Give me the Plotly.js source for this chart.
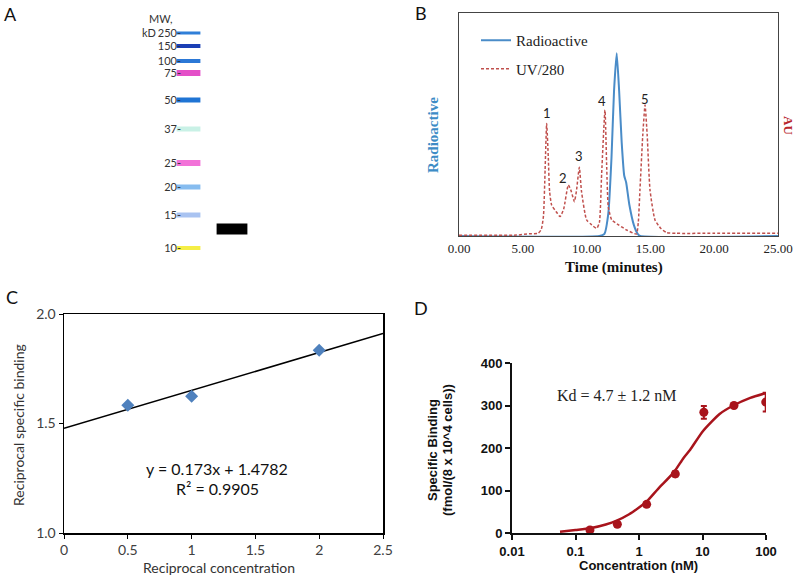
<!DOCTYPE html>
<html>
<head>
<meta charset="utf-8">
<script src="https://cdn.plot.ly/plotly-3.0.1.min.js"></script>
<style>
html,body{margin:0;padding:0;background:#fff;}
#chart{width:800px;height:579px;}
</style>
</head>
<body>
<div id="chart"></div>
<script>
// ---------- Panel A: gel (marker ladder + sample band) ----------
var ladderMW = ['250','150','100','75','50','37','25','20','15','10'];
var ladderMigration = [33, 46, 61, 73, 100, 129, 163, 187, 215, 248];
var ladderColors = ['#2f7fd8','#1b3fb5','#2b78d6','#e44fc8','#1f74d4','#c9f1e6','#f272d8','#86bcef','#a9c3f1','#f5ee45'];
var ladderThickness = [3, 4, 4, 6, 5, 5, 6, 5, 5, 4];
var sampleMigration = [229];

// ---------- Panel B: chromatogram ----------
var uvTime = [0, 4.5, 5.5, 6.2, 6.45, 6.62, 6.75, 6.87, 7.0, 7.1, 7.26, 7.6, 7.92, 8.2, 8.57, 8.8, 9.04, 9.2, 9.43, 9.6, 10.0, 10.4, 10.79, 11.0, 11.18, 11.44, 11.58, 11.7, 11.97, 12.5, 13.14, 13.9, 14.05, 14.18, 14.4, 14.58, 14.75, 14.97, 15.36, 15.8, 16.27, 17.0, 20.0, 25.0];
var uvSignal = [0.003, 0.004, 0.01, 0.012, 0.03, 0.09, 0.3, 0.505, 0.35, 0.2, 0.139, 0.11, 0.087, 0.12, 0.229, 0.2, 0.154, 0.2, 0.308, 0.2, 0.072, 0.05, 0.034, 0.06, 0.28, 0.565, 0.3, 0.13, 0.072, 0.05, 0.027, 0.009, 0.06, 0.206, 0.45, 0.587, 0.45, 0.206, 0.072, 0.035, 0.015, 0.012, 0.012, 0.012];
var radTime = [0, 11.0, 11.4, 11.7, 11.95, 12.15, 12.36, 12.55, 12.75, 12.95, 13.1, 13.35, 13.7, 14.0, 14.2, 25.0];
var radSignal = [0, 0, 0.01, 0.1, 0.35, 0.65, 0.82, 0.65, 0.42, 0.27, 0.24, 0.14, 0.05, 0.01, 0, 0];
var peakLabels = ['1','2','3','4','5'];
var peakLabelTime = [6.9, 8.15, 9.4, 11.2, 14.6];
var peakLabelSignal = [0.55, 0.26, 0.36, 0.605, 0.615];
var timeTicks = [0, 5, 10, 15, 20, 25];

// ---------- Panel C: double-reciprocal plot ----------
var recipConc = [0.5, 1, 2];
var recipBinding = [1.583, 1.625, 1.835];
var trendX = [0, 2.5];
var trendY = [1.4782, 1.9107];

// ---------- Panel D: saturation binding ----------
var concNM = [0.169, 0.456, 1.32, 3.73, 10.5, 31.3, 99];
var binding = [7, 20.5, 67.5, 139, 284, 300, 308];
var bindingErr = [4, 5, 5, 6, 15, 4, 22];
var fitConc = [0.057, 0.1, 0.169, 0.3, 0.446, 0.7, 1.0, 1.32, 2.0, 3.5, 5.0, 6.4, 10.2, 18.6, 30.6, 56.5, 99];
var fitBinding = [3, 7, 11, 20, 29, 44, 60, 74, 104, 142, 176, 196, 240, 280, 300, 318, 329];
var concTicks = [0.01, 0.1, 1, 10, 100];
var concTickText = ['0.01', '0.1', '1', '10', '100'];

// helpers: pixel -> paper
function px(x){ return x/800; }
function py(y){ return 1 - y/579; }

var serif = 'Liberation Serif, Times New Roman, serif';
var sans = 'Lato, Open Sans, sans-serif';
var arial = 'Liberation Sans, Arial, sans-serif';

var traces = [
  // A ladder
  {x: ladderMW.map(function(){return 1;}), y: ladderMigration, xaxis:'x', yaxis:'y', mode:'markers', type:'scatter', showlegend:false, hoverinfo:'skip',
   marker:{symbol:'line-ew', size:17, line:{color:ladderColors, width:ladderThickness}}},
  // A sample
  {x: [2], y: sampleMigration, xaxis:'x', yaxis:'y', mode:'markers', type:'scatter', showlegend:false, hoverinfo:'skip',
   marker:{symbol:'line-ew', size:22, line:{color:'#000', width:11}}},
  // B
  {x: radTime, y: radSignal, xaxis:'x2', yaxis:'y2', mode:'lines', type:'scatter', name:'Radioactive', legendgroup:'a',
   line:{color:'#4a8cc8', width:2, shape:'spline', smoothing:0.5}},
  {x: uvTime, y: uvSignal, xaxis:'x2', yaxis:'y2', mode:'lines', type:'scatter', name:'UV/280', legendgroup:'b',
   line:{color:'#c0504d', width:1.5, dash:'3px,2px', shape:'spline', smoothing:0.5}},
  // C
  {x: trendX, y: trendY, xaxis:'x3', yaxis:'y3', mode:'lines', type:'scatter', showlegend:false,
   line:{color:'#000', width:1.5}},
  {x: recipConc, y: recipBinding, xaxis:'x3', yaxis:'y3', mode:'markers', type:'scatter', showlegend:false,
   marker:{symbol:'diamond', size:10, color:'#4f81bd'}},
  // D
  {x: fitConc, y: fitBinding, xaxis:'x4', yaxis:'y4', mode:'lines', type:'scatter', showlegend:false,
   line:{color:'#a8141c', width:2.5, shape:'spline', smoothing:0.6}},
  {x: concNM, y: binding, xaxis:'x4', yaxis:'y4', mode:'markers', type:'scatter', showlegend:false,
   error_y:{type:'data', array:bindingErr, visible:true, color:'#a8141c', thickness:2, width:3},
   marker:{symbol:'circle', size:9, color:'#a8141c'}}
];

var layout = {
  width:800, height:579,
  margin:{l:0, r:0, t:0, b:0},
  paper_bgcolor:'#fff', plot_bgcolor:'rgba(0,0,0,0)',
  showlegend:true,
  legend:{x:px(476), y:py(24), xanchor:'left', yanchor:'top', bgcolor:'rgba(0,0,0,0)',
          font:{family:serif, size:15, color:'#222'}, tracegroupgap:6, itemwidth:30},
  // A
  xaxis:{domain:[px(145), px(275.5)], range:[0,3], visible:false, fixedrange:true, anchor:'y'},
  yaxis:{domain:[py(260), py(20)], range:[260,20], anchor:'free', position:px(181), showgrid:false, zeroline:false, showline:false,
         ticks:'', tickvals:ladderMigration, ticktext:ladderMW.map(function(s){return s+'-';}),
         tickfont:{family:sans, size:11, color:'#333'}},
  // B
  xaxis2:{domain:[px(459), px(778)], range:[0,25], anchor:'y2', tickvals:timeTicks, ticktext:timeTicks.map(function(v){return v.toFixed(2);}),
          ticks:'', showline:true, mirror:true, linecolor:'#444', linewidth:1, showgrid:false, zeroline:false,
          tickfont:{family:serif, size:13, color:'#222'}},
  yaxis2:{domain:[py(236), py(13)], range:[0,1], anchor:'x2', showticklabels:false, ticks:'', showline:true, mirror:true,
          linecolor:'#444', linewidth:1, showgrid:false, zeroline:false},
  // C
  xaxis3:{domain:[px(64), px(383)], range:[0,2.5], anchor:'y3', dtick:0.5, tick0:0, ticks:'outside', ticklen:4, tickcolor:'#000',
          showline:true, mirror:true, linecolor:'#000', linewidth:1.5, showgrid:false, zeroline:false,
          tickfont:{family:sans, size:14, color:'#404040'}},
  yaxis3:{domain:[py(533), py(314)], range:[1,2], anchor:'x3', dtick:0.5, tick0:1, tickformat:'.1f', ticks:'outside', ticklen:4, tickcolor:'#000',
          showline:true, mirror:true, linecolor:'#000', linewidth:1.5, showgrid:false, zeroline:false,
          tickfont:{family:sans, size:14, color:'#404040'}},
  // D
  xaxis4:{domain:[px(512), px(766)], type:'log', range:[-2,2], anchor:'y4', tickvals:concTicks, ticktext:concTickText,
          ticks:'outside', ticklen:5, tickwidth:2, tickcolor:'#111', showline:true, linecolor:'#111', linewidth:2,
          showgrid:false, zeroline:false, tickfont:{family:arial, size:13, color:'#111', weight:'bold'}},
  yaxis4:{domain:[py(533), py(363)], range:[0,400], anchor:'x4', dtick:100, ticks:'outside', ticklen:5, tickwidth:2, tickcolor:'#111',
          showline:true, linecolor:'#111', linewidth:2, showgrid:false, zeroline:false,
          tickfont:{family:arial, size:13, color:'#111', weight:'bold'}},
  annotations:[]
};

function note(text, x, y, font, extra){
  var a = {text:text, x:px(x), y:py(y), xref:'paper', yref:'paper', xanchor:'center', yanchor:'middle', showarrow:false, font:font};
  if (extra) for (var k in extra) a[k] = extra[k];
  layout.annotations.push(a);
}

// panel letters
note('A', 10, 14, {family:sans, size:18, color:'#111'});
note('B', 421, 13, {family:sans, size:18, color:'#111'});
note('C', 12, 297, {family:sans, size:18, color:'#111'});
note('D', 421, 308, {family:sans, size:18, color:'#111'});
// A
note('MW,', 147, 19, {family:sans, size:11, color:'#333'}, {xanchor:'left'});
note('kD', 158, 33, {family:sans, size:11, color:'#333'}, {xanchor:'right'});
// B
note('<b>Radioactive</b>', 433, 135, {family:serif, size:15, color:'#3d8cc6'}, {textangle:-90});
note('<b>AU</b>', 789, 125, {family:serif, size:13, color:'#b8262b'}, {textangle:90});
note('<b>Time (minutes)</b>', 614, 267, {family:serif, size:15, color:'#111'});
for (var i=0;i<peakLabels.length;i++){
  layout.annotations.push({text:peakLabels[i], x:peakLabelTime[i], y:peakLabelSignal[i], xref:'x2', yref:'y2',
    xanchor:'center', yanchor:'middle', showarrow:false, font:{family:sans, size:13, color:'#222'}});
}
// C
note('y = 0.173x + 1.4782', 217, 468, {family:sans, size:16, color:'#111'});
note('R² = 0.9905', 217, 488, {family:sans, size:16, color:'#111'});
note('Reciprocal concentration', 219, 567, {family:sans, size:14, color:'#333'});
note('Reciprocal specific binding', 18, 425, {family:sans, size:14, color:'#333'}, {textangle:-90});
// D
note('Kd = 4.7 ± 1.2 nM', 617, 395, {family:serif, size:16, color:'#222'});
note('<b>Concentration (nM)</b>', 638, 565, {family:arial, size:13, color:'#111'});
note('<b>Specific Binding</b>', 432, 450, {family:arial, size:13, color:'#111'}, {textangle:-90});
note('<b>(fmol/(8 x 10^4 cells))</b>', 447, 450, {family:arial, size:13, color:'#111'}, {textangle:-90});

Plotly.newPlot('chart', traces, layout, {staticPlot:true, displayModeBar:false});
</script>
</body>
</html>
